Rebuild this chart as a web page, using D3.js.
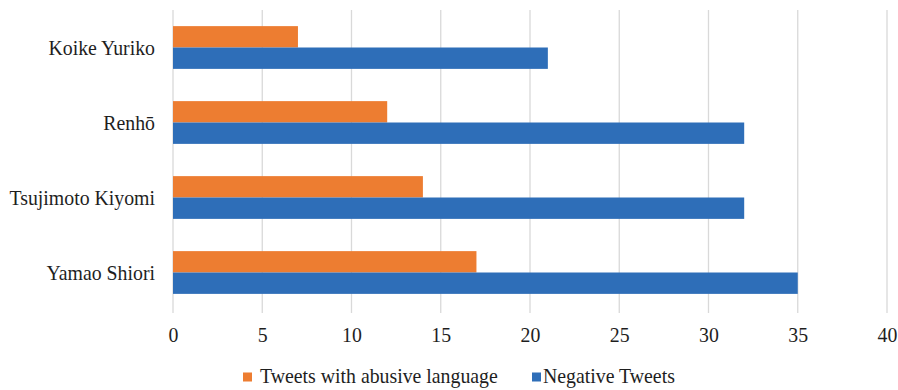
<!DOCTYPE html>
<html>
<head>
<meta charset="utf-8">
<script src="https://cdn.jsdelivr.net/npm/d3@7"></script>
<style>
  body { margin: 0; background: #fff; }
  svg text { font-family: "Liberation Serif", "Times New Roman", serif; fill: #1e1e1e; }
</style>
</head>
<body>
<div id="chart"></div>
<script>
var names = ["Koike Yuriko", "Renhō", "Tsujimoto Kiyomi", "Yamao Shiori"];
var abusive = [7, 12, 14, 17];
var negative = [21, 32, 32, 35];
var seriesNames = ["Tweets with abusive language", "Negative Tweets"];
var seriesColors = ["#ED7D31", "#2E6EB8"];
var xTicks = [0, 5, 10, 15, 20, 25, 30, 35, 40];

var wid = 898, heig = 390;
var plotLeft = 173, plotRight = 887, plotTop = 10, plotBottom = 310;
var fontSize = "22px";
var serif = "'Liberation Serif', 'Times New Roman', serif";
var squeeze = 0.9; // reference type is a bit narrow

var svg = d3.select("#chart").append("svg")
    .attr("width", wid)
    .attr("height", heig);

var x = d3.scaleLinear().domain([0, 40]).range([plotLeft, plotRight]);
var y = d3.scaleBand().domain(names).range([plotTop, plotBottom]).paddingInner(0.43).paddingOuter(0.215);
var sub = d3.scaleBand().domain([0, 1]).range([0, y.bandwidth()]);

function narrow(sel) {
  sel.each(function() {
    var w = this.getComputedTextLength();
    d3.select(this).attr("textLength", w * squeeze).attr("lengthAdjust", "spacingAndGlyphs");
  });
}

// gridlines
svg.append("g").selectAll("line")
    .data(xTicks)
    .enter().append("line")
    .attr("x1", function(d) { return x(d); })
    .attr("x2", function(d) { return x(d); })
    .attr("y1", plotTop)
    .attr("y2", plotBottom + 3)
    .attr("stroke", "#d9d9d9")
    .attr("stroke-width", 1.3);

// bars
var rows = names.map(function(n, i) { return { name: n, vals: [abusive[i], negative[i]] }; });
var grp = svg.append("g").selectAll("g")
    .data(rows)
    .enter().append("g")
    .attr("transform", function(d) { return "translate(0," + y(d.name) + ")"; });

grp.selectAll("rect")
    .data(function(d) { return d.vals; })
    .enter().append("rect")
    .attr("x", x(0))
    .attr("y", function(d, i) { return sub(i); })
    .attr("width", function(d) { return x(d) - x(0); })
    .attr("height", sub.bandwidth())
    .attr("fill", function(d, i) { return seriesColors[i]; });

// x axis labels
var xAxis = d3.axisBottom(x).tickValues(xTicks).tickSize(0).tickPadding(0);
var xg = svg.append("g")
    .attr("transform", "translate(0,342)")
    .attr("font-family", serif)
    .call(xAxis);
xg.attr("font-family", serif).attr("font-size", fontSize);
xg.select(".domain").remove();
xg.selectAll("text")
    .attr("dy", 0)
    .attr("fill", "#1e1e1e")
    .call(narrow);

// y axis labels
var yAxis = d3.axisLeft(y).tickSize(0).tickPadding(18);
var yg = svg.append("g")
    .attr("transform", "translate(" + x(0) + ",0)")
    .call(yAxis);
yg.attr("font-family", serif).attr("font-size", fontSize);
yg.select(".domain").remove();
yg.selectAll("text")
    .attr("fill", "#1e1e1e")
    .call(narrow);

// legend
var legendX = [243, 532];
var legendGap = [17, 11];
var legend = svg.append("g")
    .attr("font-family", serif)
    .attr("font-size", fontSize)
    .selectAll("g")
    .data(seriesNames)
    .enter().append("g")
    .attr("transform", function(d, i) { return "translate(" + legendX[i] + ",377)"; });
legend.append("rect")
    .attr("x", 0)
    .attr("y", -4.5)
    .attr("width", 9)
    .attr("height", 9)
    .attr("fill", function(d, i) { return seriesColors[i]; });
legend.append("text")
    .attr("x", function(d, i) { return legendGap[i]; })
    .attr("y", 6)
    .text(function(d) { return d; })
    .call(narrow);
</script>
</body>
</html>
